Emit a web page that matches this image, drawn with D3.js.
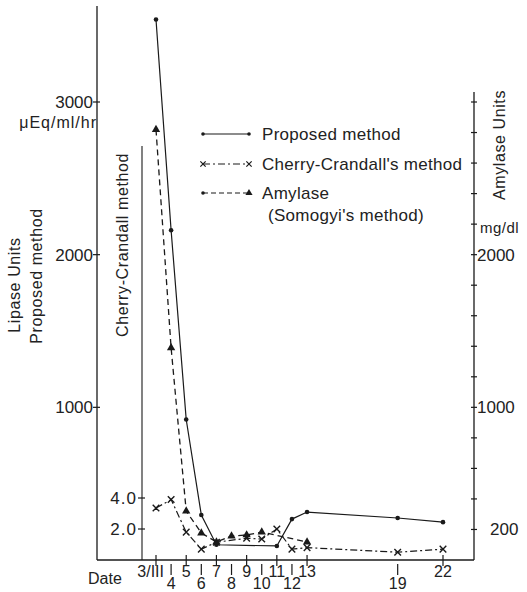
<!DOCTYPE html>
<html>
<head>
<meta charset="utf-8">
<script src="https://cdn.jsdelivr.net/npm/d3@7"></script>
<style>
  body { margin: 0; background: white; }
  text { font-family: "Liberation Sans", Arial, sans-serif; fill: #222; }
  .num { font-family: "Liberation Sans Narrow", "Liberation Sans", Arial, sans-serif; }
</style>
</head>
<body>
<svg id="chart" width="527" height="592"></svg>
<script>

// dates (day of March)
let propDays = [3, 4, 5, 6, 7, 11, 12, 13, 19, 22];
let propVals = [3540, 2160, 920, 295, 100, 92, 268, 314, 275, 248];      // uEq/ml/hr

let ccDays = [3, 4, 5, 6, 7, 9, 10, 11, 12, 13, 19, 22];
let ccVals = [3.35, 3.9, 1.8, 0.7, 1.15, 1.4, 1.35, 2.0, 0.7, 0.8, 0.5, 0.7];

let amyDays = [3, 4, 5, 6, 7, 8, 9, 10, 13];
let amyVals = [2820, 1390, 320, 177, 118, 157, 164, 183, 118];            // mg/dl

let dateTicks = [3, 4, 5, 6, 7, 8, 9, 10, 11, 12, 13, 19, 22];
let dateLabels = ["3/III", "4", "5", "6", "7", "8", "9", "10", "11", "12", "13", "19", "22"];
let leftTicks = [1000, 2000, 3000];
let ccTicks = [2, 4];
let rightTicks = d3.range(200, 3001, 200);
let rightLabels = [200, 1000, 2000];

function makeChart(id) {
    let chart = d3.select("#" + id);

    let axisLeftX = 97, axisRightX = 474, ccAxisX = 142, baseY = 560;

    let x = d3.scaleLinear().domain([3, 22]).range([156, 443]);
    let yLeft = d3.scaleLinear().domain([0, 3000]).range([baseY, 102]);
    let yRight = d3.scaleLinear().domain([0, 3000]).range([baseY, 102]);
    let yCC = d3.scaleLinear().domain([0, 4]).range([baseY, 498]);

    let ink = "#1a1a1a";

    // frame lines
    chart.append("line").attr("x1", axisLeftX).attr("x2", axisLeftX).attr("y1", 6).attr("y2", baseY)
        .style("stroke", ink).style("stroke-width", 1.3);
    chart.append("line").attr("x1", ccAxisX).attr("x2", ccAxisX).attr("y1", 146).attr("y2", baseY)
        .style("stroke", ink).style("stroke-width", 1.1);
    chart.append("line").attr("x1", axisRightX).attr("x2", axisRightX).attr("y1", 92).attr("y2", baseY)
        .style("stroke", ink).style("stroke-width", 1.3);
    chart.append("line").attr("x1", axisLeftX).attr("x2", axisRightX).attr("y1", baseY).attr("y2", baseY)
        .style("stroke", ink).style("stroke-width", 1.3);

    // left axis (Proposed method)
    chart.selectAll(".lt").data(leftTicks).enter().append("line")
        .attr("x1", axisLeftX - 4).attr("x2", axisLeftX + 3)
        .attr("y1", d => yLeft(d)).attr("y2", d => yLeft(d))
        .style("stroke", ink).style("stroke-width", 1.2);
    chart.selectAll(".ll").data(leftTicks).enter().append("text").attr("class", "num")
        .attr("x", axisLeftX - 4).attr("y", d => yLeft(d) + 6)
        .attr("text-anchor", "end").style("font-size", "17px")
        .text(d => d);
    chart.append("text").attr("x", axisLeftX).attr("y", 128)
        .attr("text-anchor", "end").style("font-size", "16px").style("letter-spacing", "1px")
        .text("\u03bcEq/ml/hr");

    // Cherry-Crandall axis
    chart.selectAll(".ct").data(ccTicks).enter().append("line")
        .attr("x1", ccAxisX - 4).attr("x2", ccAxisX + 3)
        .attr("y1", d => yCC(d)).attr("y2", d => yCC(d))
        .style("stroke", ink).style("stroke-width", 1.2);
    chart.selectAll(".cl").data(ccTicks).enter().append("text").attr("class", "num")
        .attr("x", ccAxisX - 5).attr("y", d => yCC(d) + 6)
        .attr("text-anchor", "end").style("font-size", "17px").style("letter-spacing", "1px")
        .text(d => d3.format(".1f")(d));

    // right axis (Amylase)
    chart.selectAll(".rt").data(rightTicks).enter().append("line")
        .attr("x1", axisRightX - 3).attr("x2", axisRightX + 3)
        .attr("y1", d => yRight(d)).attr("y2", d => yRight(d))
        .style("stroke", ink).style("stroke-width", 1.2);
    chart.selectAll(".rl").data(rightLabels).enter().append("text").attr("class", "num")
        .attr("x", d => d < 1000 ? axisRightX + 16 : axisRightX + 3).attr("y", d => yRight(d) + 6)
        .style("font-size", "17px")
        .text(d => d);
    chart.append("text").attr("x", axisRightX + 6).attr("y", 233)
        .style("font-size", "15px").style("letter-spacing", "0.5px").text("mg/dl");

    // date axis
    chart.selectAll(".dt").data(dateTicks).enter().append("line")
        .attr("x1", d => x(d)).attr("x2", d => x(d))
        .attr("y1", (d, i) => i % 2 ? baseY + 4 : baseY - 5)
        .attr("y2", (d, i) => i % 2 ? baseY + 15 : baseY + 6)
        .style("stroke", ink).style("stroke-width", 1.2);
    chart.selectAll(".dl").data(dateTicks).enter().append("text").attr("class", "num")
        .attr("x", (d, i) => i == 0 ? x(d) + 8 : x(d))
        .attr("y", (d, i) => i % 2 ? 589 : 577)
        .attr("text-anchor", (d, i) => i == 0 ? "end" : "middle")
        .style("font-size", "16px")
        .text((d, i) => dateLabels[i]);
    chart.append("text").attr("x", 88).attr("y", 584).style("font-size", "16px").text("Date");

    // rotated axis titles
    let vtitle = (tx, ty, label) => chart.append("text")
        .attr("transform", `translate(${tx},${ty}) rotate(-90)`)
        .attr("text-anchor", "middle").style("font-size", "16px").style("letter-spacing", "0.6px")
        .text(label);
    vtitle(20, 285, "Lipase Units");
    vtitle(42, 276, "Proposed method");
    vtitle(128, 245, "Cherry-Crandall method");
    vtitle(505, 145, "Amylase Units");

    // series lines
    let propLine = d3.line().x((d, i) => x(propDays[i])).y(d => yLeft(d));
    let ccLine = d3.line().x((d, i) => x(ccDays[i])).y(d => yCC(d));
    let amyLine = d3.line().x((d, i) => x(amyDays[i])).y(d => yRight(d));

    chart.append("path").attr("d", propLine(propVals))
        .style("fill", "none").style("stroke", ink).style("stroke-width", 1.2);
    chart.append("path").attr("d", ccLine(ccVals))
        .style("fill", "none").style("stroke", ink).style("stroke-width", 1.2)
        .style("stroke-dasharray", "7,3,2,3");
    chart.append("path").attr("d", amyLine(amyVals))
        .style("fill", "none").style("stroke", ink).style("stroke-width", 1.3)
        .style("stroke-dasharray", "6,4");

    // markers
    let tri = d3.symbol().type(d3.symbolTriangle).size(30);
    let cross = d3.symbol().type(d3.symbolX).size(30);

    chart.selectAll(".pdot").data(propVals).enter().append("circle")
        .attr("cx", (d, i) => x(propDays[i])).attr("cy", d => yLeft(d)).attr("r", 2.3)
        .style("fill", ink);
    chart.selectAll(".cx").data(ccVals).enter().append("path")
        .attr("d", cross)
        .attr("transform", (d, i) => `translate(${x(ccDays[i])},${yCC(d)})`)
        .style("fill", "none").style("stroke", ink).style("stroke-width", 1.4);
    chart.selectAll(".atri").data(amyVals).enter().append("path")
        .attr("d", tri)
        .attr("transform", (d, i) => `translate(${x(amyDays[i])},${yRight(d)})`)
        .style("fill", ink);

    // legend
    let legend = [
        {y: 134, label: "Proposed method", dash: null, left: "dot", right: "dot"},
        {y: 164, label: "Cherry-Crandall's method", dash: "7,3,2,3", left: "x", right: "x"},
        {y: 193, label: "Amylase", dash: "5,3", left: "dot", right: "tri"}
    ];
    let lx1 = 203, lx2 = 249;
    legend.forEach(l => {
        chart.append("line").attr("x1", lx1).attr("x2", lx2).attr("y1", l.y).attr("y2", l.y)
            .style("stroke", ink).style("stroke-width", 1.1)
            .style("stroke-dasharray", l.dash);
        [[lx1, l.left], [lx2, l.right]].forEach(m => {
            if (m[1] == "dot") {
                chart.append("circle").attr("cx", m[0]).attr("cy", l.y).attr("r", 1.8).style("fill", ink);
            } else if (m[1] == "x") {
                chart.append("path").attr("d", d3.symbol().type(d3.symbolX).size(20)())
                    .attr("transform", `translate(${m[0]},${l.y})`)
                    .style("fill", "none").style("stroke", ink).style("stroke-width", 1.2);
            } else {
                chart.append("path").attr("d", d3.symbol().type(d3.symbolTriangle).size(22)())
                    .attr("transform", `translate(${m[0]},${l.y})`).style("fill", ink);
            }
        });
        chart.append("text").attr("x", 262).attr("y", l.y + 6)
            .style("font-size", "17px").style("letter-spacing", "0.3px").text(l.label);
    });
    chart.append("text").attr("x", 268).attr("y", 221)
        .style("font-size", "17px").style("letter-spacing", "0.3px").text("(Somogyi's method)");
}

makeChart("chart");
</script>
</body>
</html>
